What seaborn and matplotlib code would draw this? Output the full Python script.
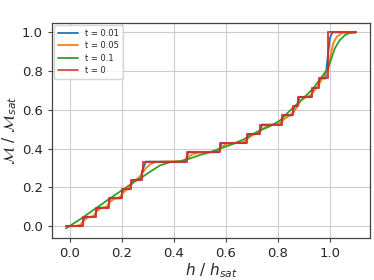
import matplotlib
matplotlib.use("Agg")
import matplotlib.pyplot as plt
import seaborn as sns
import pandas as pd

# ---- data ----
# t = 0 : staircase (transition fields, magnetization levels, steps-post)
h_t0 = [-0.015, 0.051, 0.100, 0.150, 0.201, 0.235, 0.276, 0.282, 0.449, 0.577,
        0.680, 0.733, 0.817, 0.859, 0.878, 0.933, 0.958, 0.991, 1.100]
m_t0 = [0.000, 0.048, 0.095, 0.143, 0.190, 0.238, 0.286, 0.333, 0.381, 0.429,
        0.476, 0.524, 0.571, 0.619, 0.667, 0.714, 0.762, 1.000, 1.000]

# t = 0.01
h_t001 = [-0.015, 0.045, 0.057, 0.094, 0.106, 0.144, 0.156, 0.195, 0.207, 0.229,
          0.241, 0.270, 0.280, 0.292, 0.443, 0.456, 0.571, 0.584, 0.674, 0.687,
          0.727, 0.740, 0.811, 0.823, 0.853, 0.865, 0.872, 0.884, 0.927, 0.939,
          0.952, 0.964, 0.983, 0.990, 1.000, 1.010, 1.100]
m_t001 = [0.000, 0.000, 0.048, 0.048, 0.095, 0.095, 0.143, 0.143, 0.190, 0.190,
          0.238, 0.238, 0.290, 0.333, 0.333, 0.381, 0.381, 0.429, 0.429, 0.476,
          0.476, 0.524, 0.524, 0.571, 0.571, 0.619, 0.619, 0.667, 0.667, 0.714,
          0.714, 0.762, 0.762, 0.850, 0.970, 1.000, 1.000]

# t = 0.05
h_t005 = [-0.015, 0.020, 0.040, 0.055, 0.070, 0.090, 0.105, 0.120, 0.140, 0.155,
          0.170, 0.190, 0.205, 0.222, 0.235, 0.250, 0.265, 0.280, 0.295, 0.310,
          0.330, 0.360, 0.420, 0.440, 0.455, 0.470, 0.495, 0.540, 0.565, 0.580,
          0.600, 0.630, 0.665, 0.685, 0.700, 0.720, 0.740, 0.760, 0.790, 0.810,
          0.825, 0.845, 0.862, 0.875, 0.890, 0.910, 0.928, 0.942, 0.955, 0.968,
          0.980, 0.993, 1.003, 1.013, 1.026, 1.050, 1.100]
m_t005 = [-0.002, 0.000, 0.006, 0.030, 0.045, 0.052, 0.078, 0.093, 0.100, 0.126,
          0.140, 0.148, 0.172, 0.192, 0.212, 0.236, 0.250, 0.276, 0.303, 0.320,
          0.330, 0.333, 0.335, 0.340, 0.356, 0.370, 0.379, 0.382, 0.388, 0.405,
          0.423, 0.429, 0.433, 0.452, 0.468, 0.480, 0.500, 0.518, 0.525, 0.533,
          0.553, 0.570, 0.590, 0.620, 0.650, 0.666, 0.678, 0.702, 0.725, 0.755,
          0.780, 0.805, 0.883, 0.943, 0.977, 0.998, 1.000]

# t = 0.1
h_t01 = [-0.015, 0.050, 0.100, 0.150, 0.200, 0.250, 0.280, 0.308, 0.346, 0.385,
         0.423, 0.455, 0.500, 0.538, 0.577, 0.628, 0.667, 0.692, 0.725, 0.769,
         0.808, 0.846, 0.897, 0.936, 0.974, 0.993, 1.006, 1.019, 1.038, 1.060,
         1.080, 1.100]
m_t01 = [-0.012, 0.045, 0.092, 0.139, 0.185, 0.230, 0.255, 0.280, 0.313, 0.330,
         0.334, 0.346, 0.367, 0.381, 0.400, 0.424, 0.447, 0.466, 0.490, 0.515,
         0.545, 0.595, 0.659, 0.711, 0.780, 0.815, 0.866, 0.917, 0.960, 0.988,
         0.998, 1.000]

labels = ["t = 0.01", "t = 0.05", "t = 0.1", "t = 0"]
colors = ["#1f77b4", "#ff7f0e", "#2ca02c", "#d62728"]
x_ticks = [0.0, 0.2, 0.4, 0.6, 0.8, 1.0]
y_ticks = [0.0, 0.2, 0.4, 0.6, 0.8, 1.0]

# ---- plotting ----
sns.set_style("ticks")
plt.rcParams["font.family"] = ["DejaVu Sans"]

fig = plt.figure(figsize=(3.74, 2.80), dpi=100)
ax = fig.add_axes([0.139, 0.151, 0.850, 0.768])

curves = [(h_t001, m_t001), (h_t005, m_t005), (h_t01, m_t01)]
for (hx, my), lab, col in zip(curves, labels[:3], colors[:3]):
    df = pd.DataFrame({"h": hx, "m": my})
    sns.lineplot(data=df, x="h", y="m", ax=ax, color=col, lw=1.3,
                 label=lab, sort=False, estimator=None)

df0 = pd.DataFrame({"h": h_t0, "m": m_t0})
sns.lineplot(data=df0, x="h", y="m", ax=ax, color=colors[3], lw=1.5,
             alpha=0.85, label=labels[3], sort=False, estimator=None,
             drawstyle="steps-post")

ax.set_xlim(-0.069, 1.154)
ax.set_ylim(-0.060, 1.050)
ax.set_xticks(x_ticks)
ax.set_yticks(y_ticks)
ax.tick_params(labelsize=9.5, length=3, color="#444444")
ax.grid(True, color="#cccccc", lw=0.8)
for s in ax.spines.values():
    s.set_color("#444444")
    s.set_linewidth(0.9)

ax.set_xlabel("$h$ / $h_{sat}$", fontsize=11, labelpad=1)
ax.set_ylabel(r"$\mathcal{M}$ / $\mathcal{M}_{sat}$", fontsize=11, labelpad=2)

leg = ax.legend(loc="upper left", fontsize=6, handlelength=2.4, frameon=True,
                borderpad=0.45, labelspacing=0.4, borderaxespad=0.3)
for line in leg.get_lines():
    line.set_linewidth(1.3)

fig.savefig("out.png", dpi=100)
